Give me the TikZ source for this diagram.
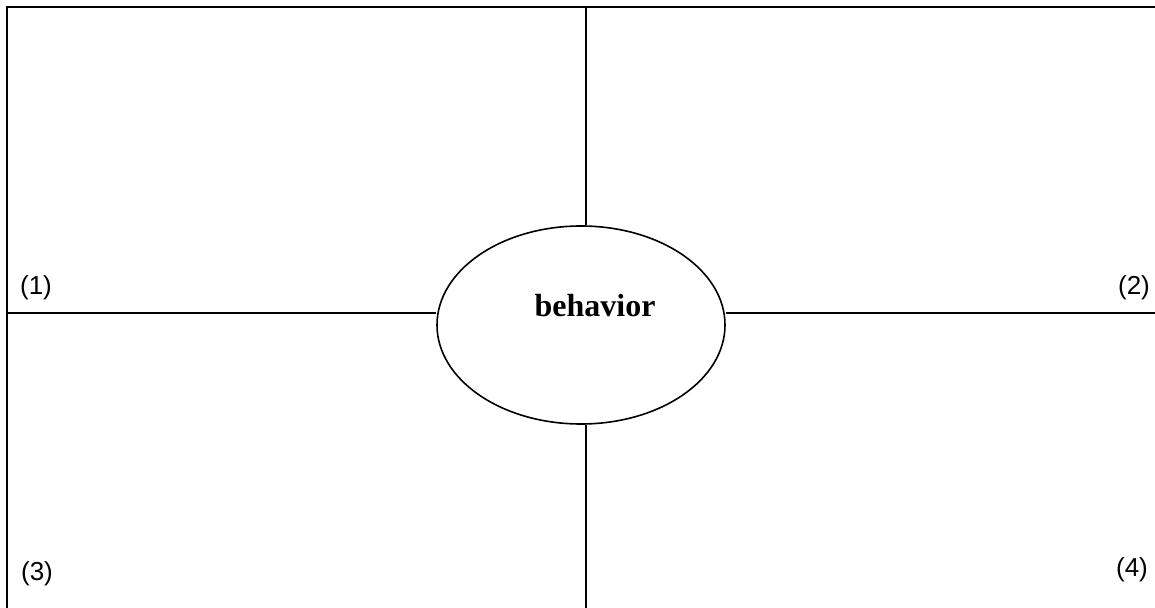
\documentclass[tikz,border=0pt]{standalone}
\usepackage{fontspec}
\setmainfont{Liberation Serif}
\setsansfont{Liberation Sans}
\usetikzlibrary{positioning,shapes.geometric}

\begin{document}
\begin{tikzpicture}[x=0.5pt,y=-0.5pt,line width=0.8pt,
  quad/.style={font=\sffamily\fontsize{13}{15}\selectfont}]
  \def\W{1155} % 右端
  \def\H{608}  % 下端
  \useasboundingbox (0,0) rectangle (\W,\H);
  \coordinate (tl) at (7,7); % 枠の左上
  \coordinate (tr) at (\W,7);
  \coordinate (bl) at (7,\H);
  \draw (bl) -- (tl) -- (tr); % 枠(左と上)
  \node[draw,ellipse,minimum width=144pt,minimum height=99pt,inner sep=0pt] (beh) at (581,325) {}; % 中央の楕円
  \node[font=\bfseries\fontsize{16}{18}\selectfont] (behtxt) at (595,306) {behavior};
  \coordinate (hl) at (7,313);   \coordinate (hr) at (\W,313);
  \coordinate (vt) at (586,7);   \coordinate (vb) at (586,\H);
  \draw (hl) -- (hl -| beh.west); \draw (beh.east |- hr) -- (hr); % 横線
  \draw (vt) -- (vt |- beh.north); \draw (beh.south -| vb) -- (vb); % 縦線
  \node[quad] (q1) at (36,288) {(1)};
  \node[quad] (q2) at (1134,288) {(2)};
  \node[quad] (q3) at (37,574) {(3)};
  \node[quad] (q4) at (1132,570) {(4)};
\end{tikzpicture}
\end{document}
